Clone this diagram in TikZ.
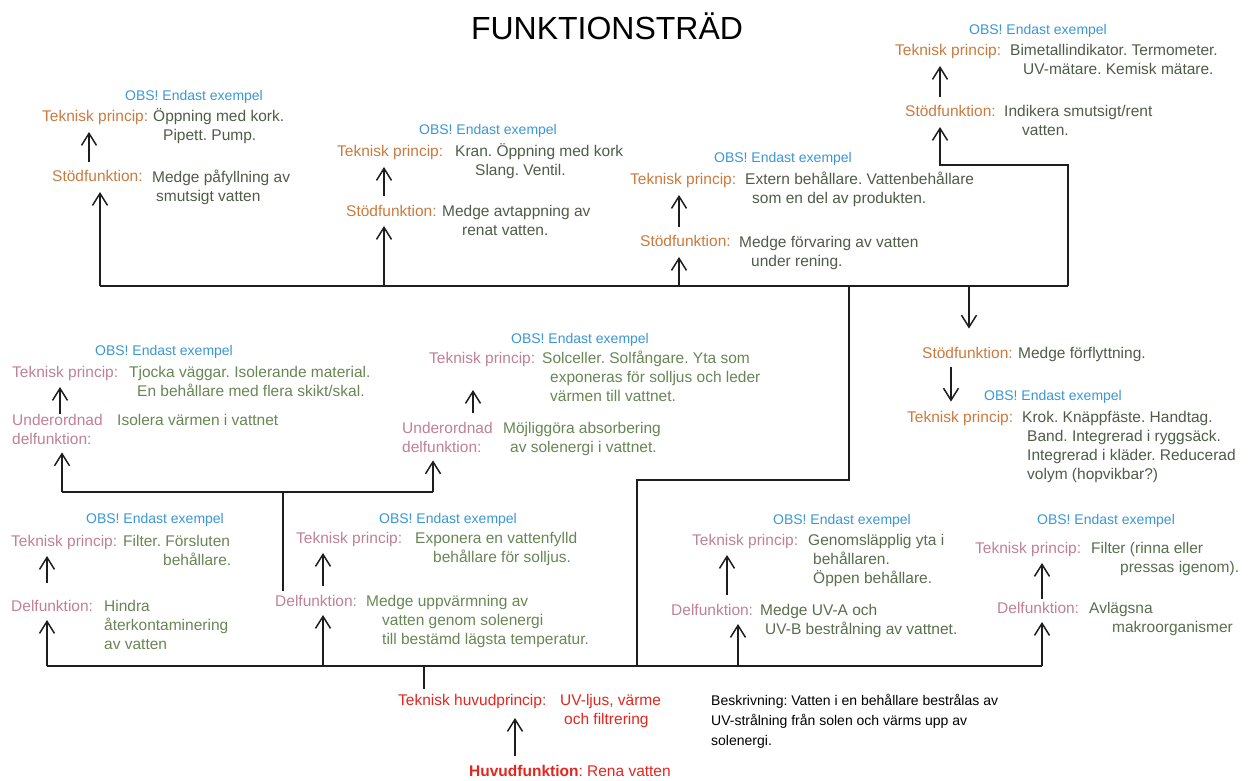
\documentclass[tikz,border=0pt]{standalone}
\usepackage{fontspec}
\setmainfont{Liberation Sans}
\usetikzlibrary{arrows.meta}
\definecolor{labor}{RGB}{203,122,62}
\definecolor{labpk}{RGB}{192,128,152}
\definecolor{txdark}{RGB}{78,92,72}
\definecolor{txgreen}{RGB}{104,134,84}
\definecolor{txmid}{RGB}{88,110,76}
\definecolor{obsblue}{RGB}{58,150,214}
\definecolor{mainred}{RGB}{226,38,30}
\definecolor{linec}{RGB}{30,30,30}
\frenchspacing
\begin{document}
% multi-line nodes are placed by the baseline of their last line
\begin{tikzpicture}[x=1pt,y=-1pt,
  txt/.style={inner sep=0pt, anchor=base west, align=left, font=\fontsize{15.5}{19}\selectfont},
  lbo/.style={txt, text=labor},
  lbp/.style={txt, text=labpk},
  bdk/.style={txt, text=txdark},
  bgr/.style={txt, text=txgreen},
  bmd/.style={txt, text=txmid},
  obs/.style={inner sep=0pt, anchor=base, font=\fontsize{14}{17}\selectfont, text=obsblue},
  conn/.style={draw=linec, line width=1.5pt},
  arr/.style={conn, -{Straight Barb[length=12pt,width=15pt]}, shorten >=10pt},
  arrl/.style={arr, shorten <=9pt}]
\useasboundingbox (0,0) rectangle (1254,781);

\node[inner sep=0pt, anchor=base, font=\fontsize{32}{36}\selectfont] (title) at (607,40) {FUNKTIONSTRÄD};

% support functions along the upper bar
\node[obs] (obs1) at (194,101) {OBS! Endast exempel};
\node[lbo] (s1tp) at (42,122) {Teknisk princip:};
\node[bdk] (s1tpb) at (153,141) {Öppning med kork.\\\hspace*{10pt}Pipett. Pump.};
\node[lbo] (s1sf) at (52,182) {Stödfunktion:};
\node[bdk] (s1sfb) at (152,201) {Medge påfyllning av\\\hspace*{4pt}smutsigt vatten};

\node[obs] (obs2) at (488,135) {OBS! Endast exempel};
\node[lbo] (s2tp) at (337,157) {Teknisk princip:};
\node[bdk] (s2tpb) at (455,176) {Kran. Öppning med kork\\\hspace*{20pt}Slang. Ventil.};
\node[lbo] (s2sf) at (346,216) {Stödfunktion:};
\node[bdk] (s2sfb) at (442,235) {Medge avtappning av\\\hspace*{20pt}renat vatten.};

\node[obs] (obs3) at (783,163) {OBS! Endast exempel};
\node[lbo] (s3tp) at (630,185) {Teknisk princip:};
\node[bdk] (s3tpb) at (745,204) {Extern behållare. Vattenbehållare\\\hspace*{7pt}som en del av produkten.};
\node[lbo] (s3sf) at (640,247) {Stödfunktion:};
\node[bdk] (s3sfb) at (739,266) {Medge förvaring av vatten\\\hspace*{12pt}under rening.};

\node[obs] (obs4) at (1038,35) {OBS! Endast exempel};
\node[lbo] (s4tp) at (895,56) {Teknisk princip:};
\node[bdk] (s4tpb) at (1010,75) {Bimetallindikator. Termometer.\\\hspace*{13pt}UV-mätare. Kemisk mätare.};
\node[lbo] (s4sf) at (905,117) {Stödfunktion:};
\node[bdk] (s4sfb) at (1004,136) {Indikera smutsigt/rent\\\hspace*{18pt}vatten.};

\node[lbo] (s5sf) at (922,358) {Stödfunktion:};
\node[bdk] (s5sfb) at (1018,358) {Medge förflyttning.};
\node[obs] (obs5) at (1053,400) {OBS! Endast exempel};
\node[lbo] (s5tp) at (907,422) {Teknisk princip:};
\node[bdk] (s5tpb) at (1022,479) {Krok. Knäppfäste. Handtag.\\\hspace*{5pt}Band. Integrerad i ryggsäck.\\\hspace*{5pt}Integrerad i kläder. Reducerad\\\hspace*{5pt}volym (hopvikbar?)};

% subordinate subfunctions
\node[obs] (obsu1) at (164,355) {OBS! Endast exempel};
\node[lbp] (u1tp) at (12,377) {Teknisk princip:};
\node[bgr] (u1tpb) at (129,396) {Tjocka väggar. Isolerande material.\\\hspace*{8pt}En behållare med flera skikt/skal.};
\node[lbp] (u1) at (12,444) {Underordnad\\delfunktion:};
\node[bgr] (u1b) at (117,425) {Isolera värmen i vattnet};

\node[obs] (obsu2) at (580,343) {OBS! Endast exempel};
\node[lbp] (u2tp) at (429,363) {Teknisk princip:};
\node[bgr] (u2tpb) at (542,401) {Solceller. Solfångare. Yta som\\\hspace*{8pt}exponeras för solljus och leder\\\hspace*{8pt}värmen till vattnet.};
\node[lbp] (u2) at (402,452) {Underordnad\\delfunktion:};
\node[bgr] (u2b) at (503,452) {Möjliggöra absorbering\\\hspace*{7pt}av solenergi i vattnet.};

% subfunctions along the lower bar
\node[obs] (obsd1) at (155,523) {OBS! Endast exempel};
\node[lbp] (d1tp) at (11,546) {Teknisk princip:};
\node[bgr] (d1tpb) at (123,565) {Filter. Försluten\\\hspace*{40pt}behållare.};
\node[lbp] (d1) at (11,611) {Delfunktion:};
\node[bgr] (d1b) at (104,649) {Hindra\\återkontaminering\\av vatten};

\node[obs] (obsd2) at (448,523) {OBS! Endast exempel};
\node[lbp] (d2tp) at (296,543) {Teknisk princip:};
\node[bgr] (d2tpb) at (415,562) {Exponera en vattenfylld\\\hspace*{18pt}behållare för solljus.};
\node[lbp] (d2) at (275,606) {Delfunktion:};
\node[bgr] (d2b) at (366,644) {Medge uppvärmning av\\\hspace*{16pt}vatten genom solenergi\\\hspace*{16pt}till bestämd lägsta temperatur.};

\node[obs] (obsd3) at (842,524) {OBS! Endast exempel};
\node[lbp] (d3tp) at (692,545) {Teknisk princip:};
\node[bmd] (d3tpb) at (808,583) {Genomsläpplig yta i\\\hspace*{5pt}behållaren.\\\hspace*{5pt}Öppen behållare.};
\node[lbp] (d3) at (671,615) {Delfunktion:};
\node[bmd] (d3b) at (760,634) {Medge UV-A och\\\hspace*{5pt}UV-B bestrålning av vattnet.};

\node[obs] (obsd4) at (1106,524) {OBS! Endast exempel};
\node[lbp] (d4tp) at (975,553) {Teknisk princip:};
\node[bmd] (d4tpb) at (1091,572) {Filter (rinna eller\\\hspace*{29pt}pressas igenom).};
\node[lbp] (d4) at (997,613) {Delfunktion:};
\node[bmd] (d4b) at (1089,632) {Avlägsna\\\hspace*{23pt}makroorganismer};

% main function and principle
\node[txt, text=mainred] (hp) at (398,705) {Teknisk huvudprincip:};
\node[txt, text=mainred] (hpb) at (560,724) {UV-ljus, värme\\\hspace*{4pt}och filtrering};
\node[txt, text=mainred] (hf) at (469,776) {\textbf{Huvudfunktion}: Rena vatten};
\node[inner sep=0pt, anchor=base west, align=left, font=\fontsize{14}{20}\selectfont] (desc) at (711,745)
  {Beskrivning: Vatten i en behållare bestrålas av\\UV-strålning från solen och värms upp av\\solenergi.};

% junction points
\coordinate (tb1) at (100,286);
\coordinate (tb2) at (384,286);
\coordinate (tb3) at (679,286);
\coordinate (tbj) at (849,286);
\coordinate (tb5) at (969,286);
\coordinate (tb4) at (1068,286);
\coordinate (k4) at (940,165);
\coordinate (j1) at (849,480);
\coordinate (j2) at (637,480);
\coordinate (mj) at (637,666);
\coordinate (ub1) at (62,492);
\coordinate (ub2) at (433,492);
\coordinate (ubs) at (283,492);
\coordinate (mb1) at (47,666);
\coordinate (mb2) at (323,666);
\coordinate (mbs) at (424,666);
\coordinate (mb3) at (738,666);
\coordinate (mb4) at (1042,666);
% arrow columns
\coordinate (a1) at (89,0);
\coordinate (a2) at (384,0);
\coordinate (a3) at (679,0);
\coordinate (a4) at (940,0);
\coordinate (a5) at (951,0);
\coordinate (au1) at (60,0);
\coordinate (au2) at (473,0);
\coordinate (ad1) at (47,0);
\coordinate (ad2) at (323,0);
\coordinate (ad3) at (727,0);
\coordinate (ad4) at (1042,0);
\coordinate (am) at (515,0);

% upper bar
\draw[conn] (tb1) -- (tb4);
\draw[arr] (tb1) -- (tb1 |- s1sf.base);
\draw[arr] (tb2) -- (tb2 |- s2sf.base);
\draw[arr] (tb3) -- (tb3 |- s3sf.base);
\draw[arr] (tb4) |- (k4) -- (k4 |- s4sf.base);
\draw[arr, shorten >=18pt] (tb5) -- (tb5 |- s5sf.north);
\draw[arrl] (a1 |- s1sf.north) -- (a1 |- s1tp.base);
\draw[arrl] (a2 |- s2sf.north) -- (a2 |- s2tp.base);
\draw[arrl] (a3 |- s3sf.north) -- (a3 |- s3tp.base);
\draw[arrl] (a4 |- s4sf.north) -- (a4 |- s4tp.base);
\draw[arrl, shorten >=9pt] (a5 |- s5sf.base) -- (a5 |- s5tp.north);

% link from upper bar down to lower bar
\draw[conn] (tbj) -- (j1) -- (j2) -- (mj);

% subordinate bar
\draw[conn] (ub1) -- (ub2);
\draw[conn, shorten >=4pt] (ubs) -- (ubs |- d2.north);
\draw[arr, shorten >=8pt] (ub1) -- (ub1 |- u1.south);
\draw[arr, shorten >=8pt] (ub2) -- (ub2 |- u2.south);
\draw[arrl, shorten <=0pt] (au1 |- u1.north) -- (au1 |- u1tp.base);
\draw[arrl, shorten >=27pt] (au2 |- u2.north) -- (au2 |- u2tp.base);

% lower bar
\draw[conn] (mb1) -- (mb4);
\draw[arr, shorten >=9pt] (mb1) -- (mb1 |- d1.base);
\draw[arr, shorten >=9pt] (mb2) -- (mb2 |- d2.base);
\draw[arr, shorten >=9pt] (mb3) -- (mb3 |- d3.base);
\draw[arr, shorten >=9pt] (mb4) -- (mb4 |- d4.base);
\draw[arrl, shorten <=17pt] (ad1 |- d1.north) -- (ad1 |- d1tp.base);
\draw[arrl] (ad2 |- d2.north) -- (ad2 |- d2tp.base);
\draw[arrl] (ad3 |- d3.north) -- (ad3 |- d3tp.base);
\draw[arrl, shorten <=3pt] (ad4 |- d4.north) -- (ad4 |- d4tp.base);

% main stem
\draw[conn, shorten >=5pt] (mbs) -- (mbs |- hp.north);
\draw[arrl, shorten >=13pt] (am |- hf.north) -- (am |- hp.base);
\end{tikzpicture}
\end{document}
